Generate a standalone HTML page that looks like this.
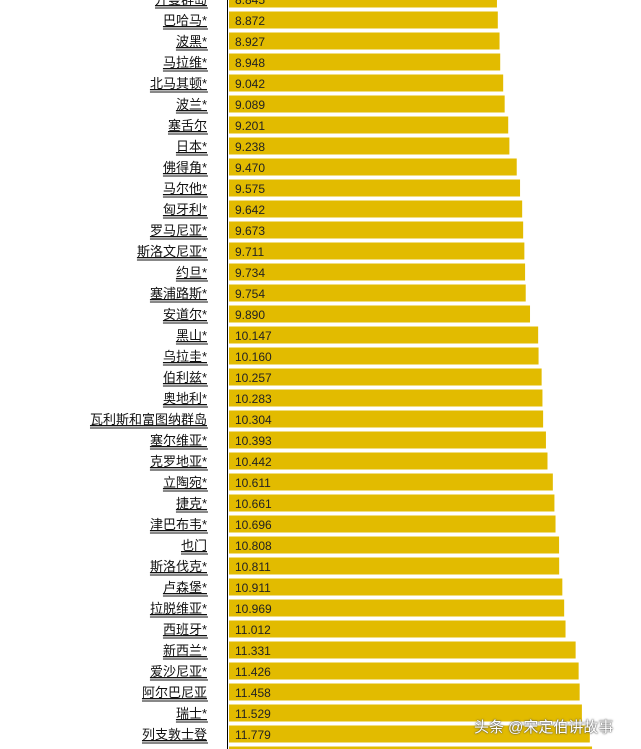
<!DOCTYPE html>
<html><head><meta charset="utf-8"><style>
body{margin:0;width:641px;height:749px;overflow:hidden;background:#fff;font-family:"Liberation Sans","Noto Sans CJK SC",sans-serif;}
#c{position:absolute;left:0;top:0}
.wm{position:absolute;left:474px;top:716px;font-size:15px;color:#fff;text-shadow:0 0 2px #555,0 0 1px #333;font-family:"Liberation Sans","Noto Sans CJK SC",sans-serif;}
</style></head><body>
<svg id="c" width="641" height="749"></svg>
<div class="wm">头条 @宋定伯讲故事</div>
<script>
const categories=["开曼群岛","巴哈马*","波黑*","马拉维*","北马其顿*","波兰*","塞舌尔","日本*","佛得角*","马尔他*","匈牙利*","罗马尼亚*","斯洛文尼亚*","约旦*","塞浦路斯*","安道尔*","黑山*","乌拉圭*","伯利兹*","奥地利*","瓦利斯和富图纳群岛","塞尔维亚*","克罗地亚*","立陶宛*","捷克*","津巴布韦*","也门","斯洛伐克*","卢森堡*","拉脱维亚*","西班牙*","新西兰*","爱沙尼亚*","阿尔巴尼亚","瑞士*","列支敦士登",""];
const values=[8.845,8.872,8.927,8.948,9.042,9.089,9.201,9.238,9.470,9.575,9.642,9.673,9.711,9.734,9.754,9.890,10.147,10.160,10.257,10.283,10.304,10.393,10.442,10.611,10.661,10.696,10.808,10.811,10.911,10.969,11.012,11.331,11.426,11.458,11.529,11.779,11.85];
const labels=values.map(v=>v.toFixed(3));
const svg=document.getElementById('c');const NS='http://www.w3.org/2000/svg';
const x=v=>217+v*31.65, y=i=>i*21-1;
function mk(t,a){const e=document.createElementNS(NS,t);for(const k in a)e.setAttribute(k,a[k]);svg.appendChild(e);return e;}
categories.forEach((c,i)=>{
 const b=mk('rect',{x:229,y:y(i)-8.5,width:x(values[i])-229,height:17,fill:'#e2bb00'});
 
 
 if(i<36){
 const t=mk('text',{x:235,y:y(i)+5,'font-size':12,fill:'#222'});t.textContent=labels[i];
 
 
 const l=mk('text',{x:207,y:y(i)+5,'font-size':13,fill:'#111','text-anchor':'end','text-decoration':'underline'});l.textContent=c;
 
 
 const bb=l.getBBox();mk('line',{x1:bb.x,x2:208,y1:y(i)+9,y2:y(i)+9,stroke:'#111','stroke-width':1});
 }
});
const ax=mk('line',{x1:227.5,x2:227.5,y1:0,y2:749,stroke:'#000','stroke-width':1});


</script>
</body></html>
